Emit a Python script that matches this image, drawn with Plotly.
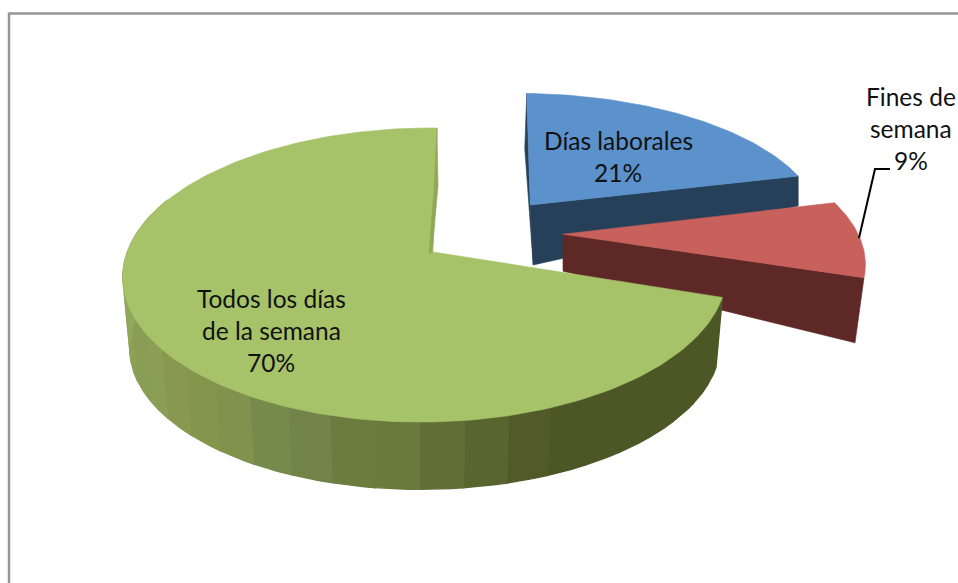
import math
import plotly.graph_objects as go

# Data
categories = ["Días laborales", "Fines de semana", "Todos los días de la semana"]
values = [21, 9, 70]
label_lines = [["Días laborales", "21%"], ["Fines de", "semana", "9%"], ["Todos los días", "de la semana", "70%"]]
top_colors = ["#5B92CB", "#C8605B", "#A6C36A"]
side_colors = ["#264059", "#5E2826", "#4D5726"]
# colours of the green rim, read from right (front) to left
green_rim = ["#4D5726", "#4D5726", "#4D5726", "#4D5726", "#4D5726", "#4D5726", "#4D5726", "#525A2A", "#59652F",
             "#616F35", "#6A7A3C", "#6B7C3E", "#728448", "#748B4C", "#80924C", "#84964C", "#88984F", "#8A9E55",
             "#889E55", "#8C9F58", "#8FA556", "#90A85B", "#93A95F", "#93A95F", "#96AD62"]

# Projection of the pie plane on the page
X0, Y0, BX, BY, KV, KU = 433.0, 252.0, 298.0, 143.4, 0.1565, 0.025
# per slice: explode u, explode v, u-scale, skew
geom = [(0.347, 0.349, 1.06, 9.0), (0.45, 0.128, 1.06, 0.0), (0.0, 0.0, 1.0, 4.0)]


def project(u, v, g):
    U = g[0] + u * g[2]
    V = g[1] + v
    d = 1 + KU * U + KV * V
    return X0 + BX * U / d + g[3] * v, Y0 - BY * V / d


def arc(a0, a1, g, n=60):
    pts = []
    for i in range(n + 1):
        t = math.radians(a0 + (a1 - a0) * i / n)
        pts.append(project(math.sin(t), math.cos(t), g))
    return pts


def poly(fig, pts, color, lw=0.6):
    xs = [p[0] for p in pts] + [pts[0][0]]
    ys = [p[1] for p in pts] + [pts[0][1]]
    fig.add_trace(go.Scatter(x=xs, y=ys, mode="lines", fill="toself", fillcolor=color,
                             line=dict(color=color, width=lw), hoverinfo="skip", showlegend=False))


def lower(p, s=0.978, d=71.0):
    return X0 + (p[0] - X0) * s, Y0 + (p[1] - Y0) * s + d


total = sum(values)
angles = [0]
for v in values:
    angles.append(angles[-1] + 360 * v / total)

fig = go.Figure()

# Blue slice
g = geom[0]
apex = project(0, 0, g)
rim = arc(angles[0], angles[1], g)
end = rim[-1]
far = rim[0]
poly(fig, [(far[0], far[1]), (far[0] - 2, far[1] + 55), (apex[0] + 3, apex[1] + 60), apex], side_colors[0])
poly(fig, [apex, end, (end[0], end[1] + 30), (apex[0] + 3, apex[1] + 60)], side_colors[0])
poly(fig, [apex] + rim, top_colors[0])

# Red slice
g = geom[1]
apex = project(0, 0, g)
rim = arc(angles[1], angles[2], g)
end = rim[-1]
poly(fig, [apex, end, (end[0] - 9, end[1] + 65), (apex[0], apex[1] + 37)], side_colors[1])
poly(fig, [apex] + rim, top_colors[1])

# Green slice
g = geom[2]
apex = project(0, 0, g)
a0, a1 = angles[2], 292.0
nb = len(green_rim)
for i, c in enumerate(green_rim):
    r = arc(a0 + (a1 - a0) * i / nb, a0 + (a1 - a0) * (i + 1) / nb, g, 8)
    poly(fig, r + [lower(p) for p in reversed(r)], c, 1.4)
rim = arc(angles[2], angles[3], g, 200)
poly(fig, [apex] + rim, top_colors[2])
far = rim[-1]
poly(fig, [far, (far[0] + 1, far[1] + 58), (apex[0] - 1, apex[1] + 1), (apex[0] - 4, apex[1] + 1),
           (far[0] - 3, far[1] + 62)], "#8FA855")

# Leader line
fig.add_trace(go.Scatter(x=[859, 875, 890], y=[238, 169, 169], mode="lines",
                         line=dict(color="#000000", width=2), hoverinfo="skip", showlegend=False))

# Labels
centres = [(618, 140), (911, 96), (271, 298)]
annotations = []
for lines, (cx, cy) in zip(label_lines, centres):
    for i, t in enumerate(lines):
        annotations.append(dict(x=cx, y=cy + i * 32, text=t, showarrow=False, xanchor="center", yanchor="middle",
                                font=dict(family="Lato", size=24.5, color="#111111")))

fig.update_layout(
    width=958, height=583, margin=dict(l=0, r=0, t=0, b=0, pad=0),
    paper_bgcolor="white", plot_bgcolor="white", showlegend=False,
    xaxis=dict(range=[0, 958], visible=False, fixedrange=True),
    yaxis=dict(range=[583, 0], visible=False, fixedrange=True),
    annotations=annotations,
    shapes=[
        dict(type="line", xref="x", yref="y", x0=9, x1=958, y0=13.5, y1=13.5, line=dict(color="#969696", width=2.5)),
        dict(type="line", xref="x", yref="y", x0=9, x1=9, y0=12.5, y1=583, line=dict(color="#969696", width=2.5)),
    ],
)
fig.write_html("out.html", config={"displayModeBar": False},
               post_script="document.body.style.margin='0';document.body.style.overflow='hidden';")
